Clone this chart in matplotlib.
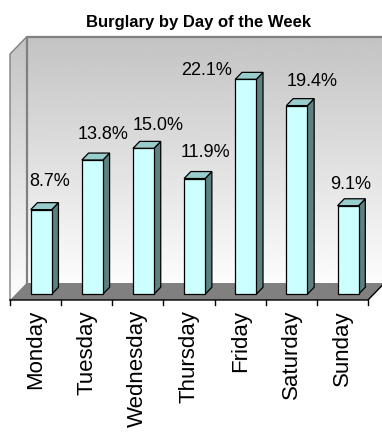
import matplotlib
matplotlib.use('Agg')
import matplotlib.pyplot as plt
from matplotlib.patches import Polygon
import numpy as np

days = ["Monday", "Tuesday", "Wednesday", "Thursday", "Friday", "Saturday", "Sunday"]
pct = [8.7, 13.8, 15.0, 11.9, 22.1, 19.4, 9.1]
pct_labels = ["8.7%", "13.8%", "15.0%", "11.9%", "22.1%", "19.4%", "9.1%"]

# label nudges in pixels, from the top front corner of each bar
label_dx = [8, 11, 15, 11, -39, 15, 3]
label_dy = [24, 21, 18, 22, 4, 20, 17]

plt.rcParams['font.family'] = ['Liberation Sans', 'DejaVu Sans']

W, H = 382, 434
fig = plt.figure(figsize=(W / 100, H / 100), dpi=100)
ax = fig.add_axes([0, 0, 1, 1])
ax.axis('off')

YMAX = 25.3
n = len(days)
# front plane of the fake 3d box, in pixels
x0_px, x1_px = 10, 368
y0_px, y1_px = 300, 54
sx = (x1_px - x0_px) / n
sy = (y0_px - y1_px) / YMAX
ax.set_xlim(-x0_px / sx, (W - x0_px) / sx)
ax.set_ylim(-(H - y0_px) / sy, y0_px / sy)

DX = 16.5 / sx
DY = 17 / sy
F1, F2 = 0.34, 0.75
BW = 21 / sx


def depth(x, y, f):
    return (x + f * DX, y + f * DY)


grad = np.linspace(0.99, 0.765, 256).reshape(-1, 1)

# back wall
ax.imshow(grad, cmap='gray', vmin=0, vmax=1, origin='upper', aspect='auto',
          extent=[DX, n + DX + 1, YMAX + DY, DY],
          interpolation='bilinear', zorder=1)

# left wall
left = Polygon([(0, 0), (0, YMAX), (DX, YMAX + DY), (DX, DY)],
               facecolor='none', edgecolor='none', zorder=2)
ax.add_patch(left)
im = ax.imshow(grad, cmap='gray', vmin=0, vmax=1, origin='upper', aspect='auto',
               extent=[0, DX, YMAX + DY, 0], interpolation='bilinear', zorder=1)
im.set_clip_path(left)

wall = '#808080'
ax.plot([DX, DX, n + DX + 1], [DY, YMAX + DY, YMAX + DY], color=wall, lw=1.6, zorder=3)
ax.plot([0, 0, DX], [0, YMAX, YMAX + DY], color=wall, lw=1.0, zorder=3)

# floor
ax.add_patch(Polygon([(0, 0), (n, 0), (n + DX, DY), (DX, DY)],
                     facecolor='#808080', edgecolor='none', zorder=3))
ax.plot([0, n, n + DX], [0, 0, DY], color='black', lw=1.0, zorder=4)

# tick marks between categories
for k in range(n + 1):
    ax.plot([k, k], [0, -5 / sy], color='black', lw=1.0, zorder=4)

# bars
for i, v in enumerate(pct):
    xl = i + 0.5 - BW / 2
    xr = i + 0.5 + BW / 2
    front = [depth(xl, 0, F1), depth(xr, 0, F1), depth(xr, v, F1), depth(xl, v, F1)]
    side = [depth(xr, 0, F1), depth(xr, 0, F2), depth(xr, v, F2), depth(xr, v, F1)]
    top = [depth(xl, v, F1), depth(xr, v, F1), depth(xr, v, F2), depth(xl, v, F2)]
    for pts, col in [(side, '#5f8080'), (top, '#99cccc'), (front, '#ccffff')]:
        ax.add_patch(Polygon(pts, facecolor=col, edgecolor='black', lw=0.9,
                             joinstyle='miter', zorder=5))
    ax.annotate(pct_labels[i], depth(i + 0.5, v, F1), xytext=(label_dx[i], label_dy[i]),
                textcoords='offset pixels', ha='center', va='baseline',
                fontsize=13, zorder=6)
    ax.annotate(days[i], (i + 0.5, 0), xytext=(0, -10), textcoords='offset pixels',
                rotation=90, ha='center', va='top', fontsize=16, zorder=6)

fig.text(199 / W, 1 - 27 / H, 'Burglary by Day of the Week', ha='center',
         va='baseline', fontsize=12, fontweight='bold')

fig.savefig('out.png', dpi=100, facecolor='white')
